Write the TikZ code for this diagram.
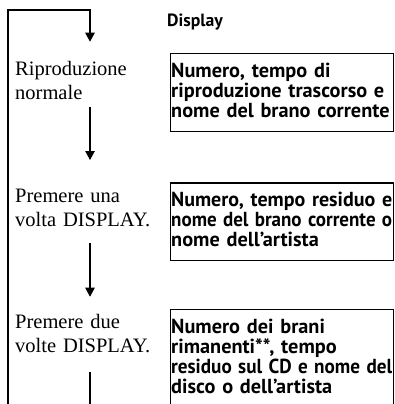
\documentclass[tikz,border=0pt]{standalone}
\usepackage{fontspec}
\usepackage{graphicx}
\setmainfont{Liberation Serif}
\newfontfamily\boxsans{PT Sans}
\usetikzlibrary{arrows.meta}
\newcommand\boxpad{\rule[-4.7pt]{0pt}{4.7pt}}
\newsavebox\fitbox
\newcommand\fitline[1]{\sbox\fitbox{#1}\ifdim\wd\fitbox>\dimexpr\linewidth-1pt\relax\resizebox{\dimexpr\linewidth-1pt\relax}{\height}{\usebox\fitbox}\else\usebox\fitbox\fi}
\begin{document}
\begin{tikzpicture}[x=1pt,y=-1pt,
  flow/.style={line width=1.2pt},
  flowarrow/.style={flow,-{Triangle[length=9pt,width=9.5pt]}},
  steptext/.style={anchor=base west,inner sep=0pt,text width=170pt,align=left,font=\fontsize{20.5}{24.5}\selectfont},
  infobox/.style={draw,line width=1.2pt,anchor=north west,inner xsep=0.6pt,inner ysep=9.4pt,text width=222pt,align=left,font=\boxsans\bfseries\fontsize{20.3}{20}\selectfont},
  header/.style={anchor=base west,inner sep=0pt,font=\boxsans\bfseries\fontsize{17.7}{20}\selectfont}]
\useasboundingbox (0,0) rectangle (394,404);
\node[header] (disp) at (167,26.5) {Display};
\node[steptext] (s1) at (15,75) {Riproduzione\\normale};
\node[steptext] (s2) at (15,202) {Premere una\\volta DISPLAY.};
\node[steptext] (s3) at (15,328) {Premere due\\volte DISPLAY.};
\node[infobox] (b1) at (170,53.3) {\fitline{Numero, tempo di}\\\fitline{riproduzione trascorso e}\\\fitline{nome del brano corrente}\boxpad};
\node[infobox] (b2) at (170,182.3) {\fitline{Numero, tempo residuo e}\\\fitline{nome del brano corrente o}\\\fitline{nome dell’artista}\boxpad};
\node[infobox] (b3) at (170,309) {\fitline{Numero dei brani}\\\fitline{rimanenti**, tempo}\\\fitline{residuo sul CD e nome del}\\\fitline{disco o dell’artista}\boxpad};
\coordinate (loopstart) at (8,410);
\coordinate (loopcorner) at (8,10);
\coordinate (a1) at (90,41.7);
\coordinate (a2s) at (90,106.7);
\coordinate (a2) at (90,160);
\coordinate (a3s) at (90,243);
\coordinate (a3) at (90,296.7);
\coordinate (a4s) at (90,372);
\coordinate (a4) at (90,410);
\draw[flowarrow] (loopstart) -- (loopcorner) -| (a1);
\draw[flowarrow] (a2s) -- (a2);
\draw[flowarrow] (a3s) -- (a3);
\draw[flow] (a4s) -- (a4);
\end{tikzpicture}
\end{document}
